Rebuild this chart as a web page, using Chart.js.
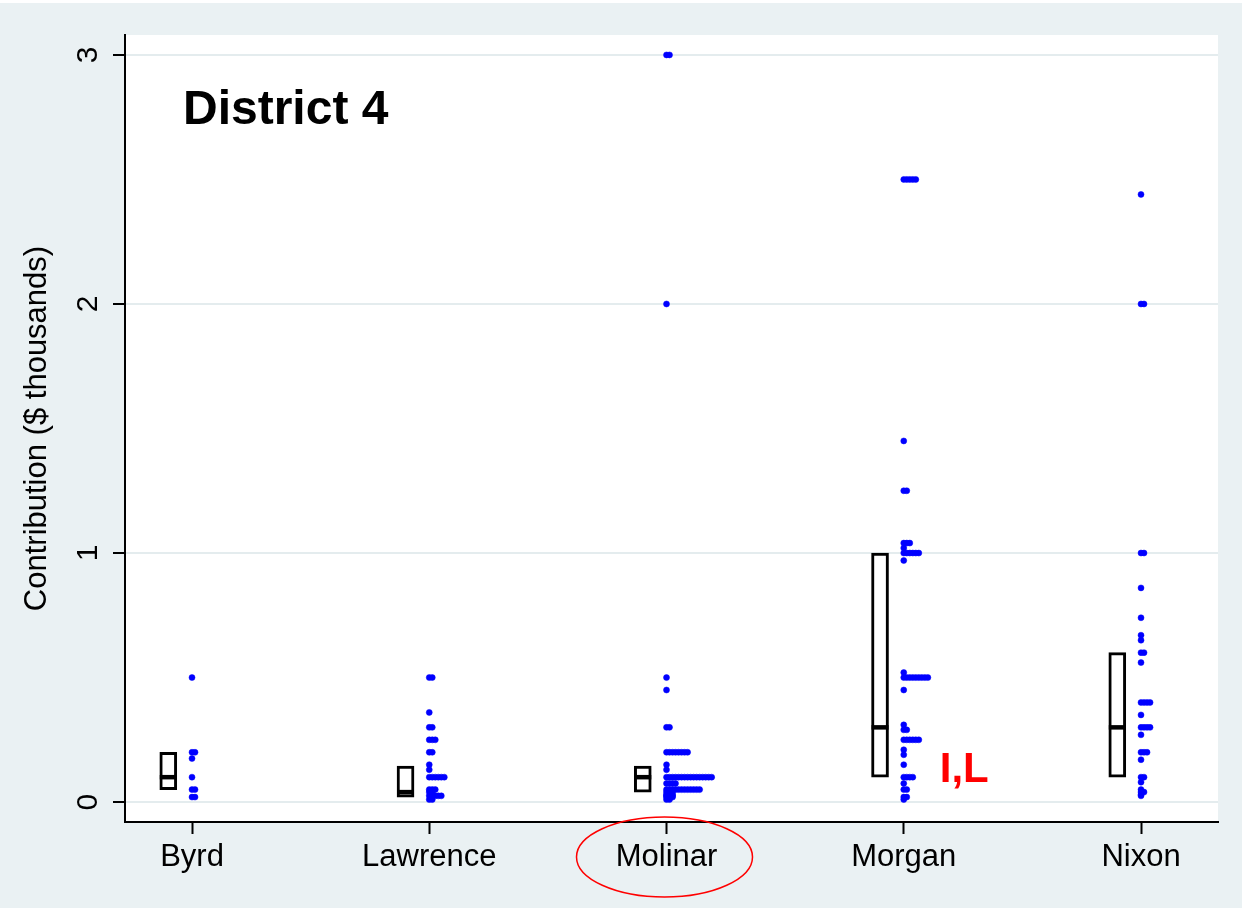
<!DOCTYPE html>
<html>
<head>
<meta charset="utf-8">
<title>District 4</title>
<script src="https://cdn.jsdelivr.net/npm/chart.js@4.4.1/dist/chart.umd.min.js"></script>
<style>
    html, body { margin: 0; padding: 0; background: #fff; }
    #wrap { width: 1242px; height: 908px; }
</style>
</head>
<body>
<div id="wrap"><canvas id="districtChart" width="1242" height="908"></canvas></div>
<script>
const candidates = ['Byrd', 'Lawrence', 'Molinar', 'Morgan', 'Nixon'];
const yTicks = [0, 1, 2, 3];

// contributions in $ thousands, a repeated value is another donor at that amount
const byrdAmounts = [0.5, 0.2, 0.2, 0.175, 0.1, 0.05, 0.05, 0.02, 0.02];
const lawrenceAmounts = [0.5, 0.5, 0.36, 0.3, 0.3, 0.25, 0.25, 0.25, 0.2, 0.2, 0.15, 0.13,
    0.1, 0.1, 0.1, 0.1, 0.1, 0.1, 0.05, 0.05, 0.05, 0.04, 0.04,
    0.025, 0.025, 0.025, 0.025, 0.025, 0.01, 0.01];
const molinarAmounts = [3, 3, 2, 0.5, 0.45, 0.3, 0.3,
    0.2, 0.2, 0.2, 0.2, 0.2, 0.2, 0.2, 0.2, 0.15, 0.13,
    0.1, 0.1, 0.1, 0.1, 0.1, 0.1, 0.1, 0.1, 0.1, 0.1, 0.1, 0.1, 0.1, 0.1, 0.1, 0.1,
    0.075, 0.075, 0.075, 0.075,
    0.05, 0.05, 0.05, 0.05, 0.05, 0.05, 0.05, 0.05, 0.05, 0.05, 0.05, 0.05,
    0.04, 0.04, 0.04, 0.03, 0.03, 0.03, 0.025, 0.025, 0.025, 0.02, 0.02, 0.02, 0.01, 0.01];
const morganAmounts = [2.5, 2.5, 2.5, 2.5, 2.5, 1.45, 1.25, 1.25, 1.04, 1.04, 1.04, 1.02,
    1, 1, 1, 1, 1, 1, 0.97, 0.52, 0.5, 0.5, 0.5, 0.5, 0.5, 0.5, 0.5, 0.5, 0.5, 0.45,
    0.31, 0.29, 0.29, 0.25, 0.25, 0.25, 0.25, 0.25, 0.25, 0.21, 0.19, 0.15,
    0.1, 0.1, 0.1, 0.1, 0.075, 0.05, 0.05, 0.02, 0.02, 0.01];
const nixonAmounts = [2.44, 2, 2, 1, 1, 0.86, 0.74, 0.67, 0.65, 0.6, 0.6, 0.56,
    0.4, 0.4, 0.4, 0.4, 0.35, 0.3, 0.3, 0.3, 0.3, 0.27, 0.2, 0.2, 0.2, 0.17,
    0.1, 0.1, 0.08, 0.05, 0.04, 0.04, 0.03, 0.025];

// box: lower quartile, median, upper quartile
const boxQ1 = [0.05, 0.02, 0.04, 0.1, 0.1];
const boxMedian = [0.1, 0.04, 0.1, 0.3, 0.3];
const boxQ3 = [0.2, 0.145, 0.145, 1, 0.6];

const amounts = [byrdAmounts, lawrenceAmounts, molinarAmounts, morganAmounts, nixonAmounts];

const boxOffset = -0.1;   // boxes sit left of the dots
const dotStep = 0.0127;   // sideways step for stacked equal amounts

const fontFamily = "'Liberation Sans', Arial, Helvetica, sans-serif";
Chart.defaults.font.family = fontFamily;
Chart.defaults.color = '#000';

const dotPoints = [];
amounts.forEach((list, i) => {
    const seen = {};
    list.forEach(v => {
        const k = seen[v] || 0;
        seen[v] = k + 1;
        dotPoints.push({ x: i + 1 + k * dotStep, y: v });
    });
});

const boxPoints = candidates.map((c, i) => ({ x: i + 1 + boxOffset, y: [boxQ1[i], boxQ3[i]] }));
const medianPoints = candidates.map((c, i) => ({ x: i + 1 + boxOffset, y: boxMedian[i] }));

// grey graph region and white plot region
const plotBackground = {
    id: 'plotBackground',
    beforeDraw(chart) {
        const { ctx, chartArea: a, width, height } = chart;
        ctx.save();
        ctx.fillStyle = '#eaf1f3';
        ctx.fillRect(0, 3, width, height - 3);
        ctx.fillStyle = '#fff';
        ctx.fillRect(a.left, a.top, a.right - a.left, a.bottom - a.top);
        ctx.restore();
    }
};

// panel title, red note and ring around Molinar
const notes = {
    id: 'notes',
    afterDraw(chart) {
        const { ctx, chartArea: a, scales: { x, y } } = chart;
        ctx.save();
        ctx.textBaseline = 'alphabetic';
        ctx.textAlign = 'left';
        ctx.fillStyle = '#000';
        ctx.font = 'bold 48px ' + fontFamily;
        ctx.fillText('District 4', a.left + 58, a.top + 89);

        ctx.fillStyle = '#ff0000';
        ctx.font = 'bold 42px ' + fontFamily;
        ctx.fillText('I,L', x.getPixelForValue(4) + 36, y.getPixelForValue(0.08));

        ctx.strokeStyle = '#ff0000';
        ctx.lineWidth = 1.5;
        ctx.beginPath();
        ctx.ellipse(x.getPixelForValue(3) - 2, a.bottom + 35, 88, 40, 0, 0, Math.PI * 2);
        ctx.stroke();
        ctx.restore();
    }
};

const ctx = document.getElementById('districtChart').getContext('2d');
new Chart(ctx, {
    type: 'scatter',
    data: {
        datasets: [
            {
                label: 'Median',
                data: medianPoints,
                pointStyle: 'line',
                pointRadius: 8.5,
                borderColor: '#000',
                borderWidth: 4.5
            },
            {
                type: 'bar',
                label: 'Quartiles',
                data: boxPoints,
                backgroundColor: '#fff',
                borderColor: '#000',
                borderWidth: 3,
                borderSkipped: false,
                barThickness: 17
            },
            {
                label: 'Contributions',
                data: dotPoints,
                pointRadius: 3,
                pointBorderWidth: 0.5,
                backgroundColor: '#0000ff',
                borderColor: '#0000ff'
            }
        ]
    },
    options: {
        responsive: false,
        devicePixelRatio: 1,
        animation: false,
        layout: { padding: { top: 35, right: 24, left: 0, bottom: 0 } },
        plugins: {
            legend: { display: false },
            tooltip: { enabled: false }
        },
        scales: {
            x: {
                type: 'linear',
                min: 0.7176,
                max: 5.3245,
                offset: false,
                afterBuildTicks: s => { s.ticks = candidates.map((c, i) => ({ value: i + 1 })); },
                afterFit: s => { s.height = 86; s.paddingLeft = 0; s.paddingRight = 0; },
                ticks: {
                    callback: v => candidates[Math.round(v) - 1],
                    font: { size: 31 },
                    color: '#000',
                    padding: 5,
                    autoSkip: false,
                    maxRotation: 0
                },
                grid: { drawOnChartArea: false, offset: false, tickLength: 12, tickColor: '#000', tickWidth: 2 },
                border: { color: '#000', width: 2 }
            },
            y: {
                type: 'linear',
                min: -0.08,
                max: 3.08,
                afterBuildTicks: s => { s.ticks = yTicks.map(v => ({ value: v })); },
                afterFit: s => { s.width = 125; s.paddingTop = 0; s.paddingBottom = 0; },
                ticks: {
                    font: { size: 30 },
                    color: '#000',
                    minRotation: 90,
                    maxRotation: 90,
                    crossAlign: 'center',
                    padding: 16
                },
                grid: { color: '#e4ecee', lineWidth: 2, tickLength: 12, tickColor: '#000', tickWidth: 2 },
                border: { color: '#000', width: 2 },
                title: {
                    display: true,
                    text: 'Contribution ($ thousands)',
                    font: { size: 31 },
                    color: '#000',
                    padding: { top: 19, bottom: 0 }
                }
            }
        }
    },
    plugins: [plotBackground, notes]
});
</script>
</body>
</html>
